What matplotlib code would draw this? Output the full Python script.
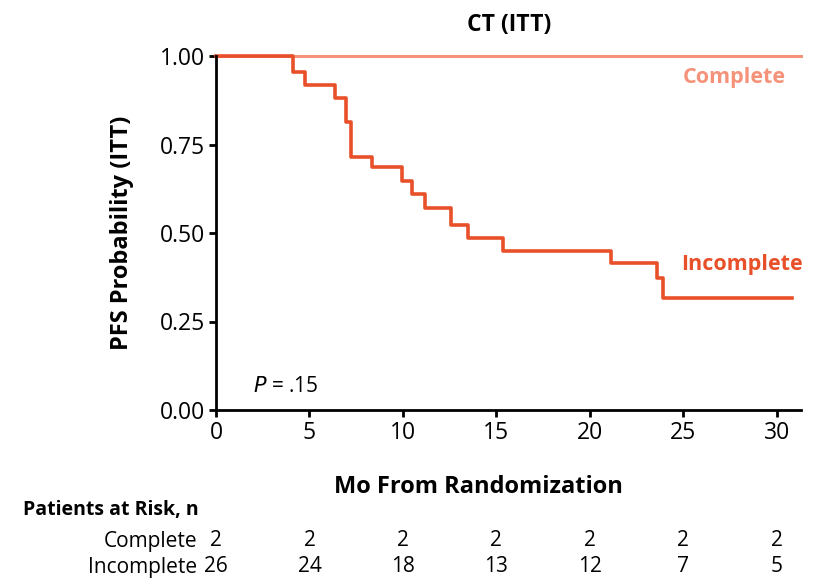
import matplotlib
matplotlib.use('Agg')
from matplotlib import pyplot as plt

# Kaplan-Meier steps (months, survival probability)
incomplete_t = [0, 4.13, 4.76, 6.36, 6.94, 7.2, 8.33, 9.93, 10.5, 11.18, 12.55,
                13.49, 15.33, 21.12, 23.57, 23.93, 30.8]
incomplete_s = [1.0, 0.956, 0.918, 0.880, 0.814, 0.716, 0.687, 0.647, 0.610,
                0.570, 0.523, 0.485, 0.450, 0.414, 0.372, 0.317, 0.317]
complete_t = [0, 31.3]
complete_s = [1.0, 1.0]

risk_times = [0, 5, 10, 15, 20, 25, 30]
risk_complete = [2, 2, 2, 2, 2, 2, 2]
risk_incomplete = [26, 24, 18, 13, 12, 7, 5]

c_complete = '#F4937A'
c_incomplete = '#E8502A'

plt.rcParams['font.family'] = ['Open Sans', 'DejaVu Sans']

fig = plt.figure(figsize=(8.15, 5.79), dpi=100)
ax = fig.add_axes([216 / 815, 169 / 579, (801 - 216) / 815, (410 - 56) / 579])

ax.step(complete_t, complete_s, where='post', color=c_complete, lw=2.2, clip_on=False)
ax.step(incomplete_t, incomplete_s, where='post', color=c_incomplete, lw=2.6, clip_on=False)

ax.set_xlim(0, 31.3)
ax.set_ylim(0, 1.0)
ax.set_xticks(risk_times)
ax.set_yticks([0, 0.25, 0.5, 0.75, 1.0])
ax.set_yticklabels(['0.00', '0.25', '0.50', '0.75', '1.00'])
ax.tick_params(labelsize=16.5, width=2, length=5, colors='black', pad=3)
ax.spines['top'].set_visible(False)
ax.spines['right'].set_visible(False)
ax.spines['left'].set_linewidth(2)
ax.spines['bottom'].set_linewidth(2)

fig.text(509 / 815, 1 - 25 / 579, 'CT (ITT)', fontsize=16.5, fontweight='bold',
         ha='center', va='center')
ax.set_ylabel('PFS Probability (ITT)', fontsize=17, fontweight='bold')
ax.yaxis.set_label_coords((122 - 216) / 585, 0.5)
ax.yaxis.label.set_va('center')
ax.set_xlabel('Mo From Randomization', fontsize=17, fontweight='bold')
ax.xaxis.set_label_coords((478 - 216) / 585, (410 - 487) / 354)
ax.xaxis.label.set_va('center')

ax.text(30.5, 0.94, 'Complete', color=c_complete, fontsize=15.5, fontweight='bold',
        ha='right', va='center')
ax.text(31.4, 0.41, 'Incomplete', color=c_incomplete, fontsize=15.5, fontweight='bold',
        ha='right', va='center')
ax.text(2.0, 0.065, '$P$ = .15', fontsize=15, ha='left', va='center')

# risk table
fig.text(23 / 815, 1 - 510 / 579, 'Patients at Risk, n', fontsize=14, fontweight='bold',
         va='center', ha='left')
trans = ax.get_xaxis_transform()
for label, vals, ypix in [('Complete', risk_complete, 541), ('Incomplete', risk_incomplete, 567)]:
    fig.text(197 / 815, 1 - ypix / 579, label, fontsize=15, ha='right', va='center')
    for t, v in zip(risk_times, vals):
        yax = (410 - ypix) / (410 - 56)
        ax.text(t, yax, str(v), fontsize=15, ha='center', va='center',
                transform=trans, clip_on=False)

fig.savefig('out.png', dpi=100)
